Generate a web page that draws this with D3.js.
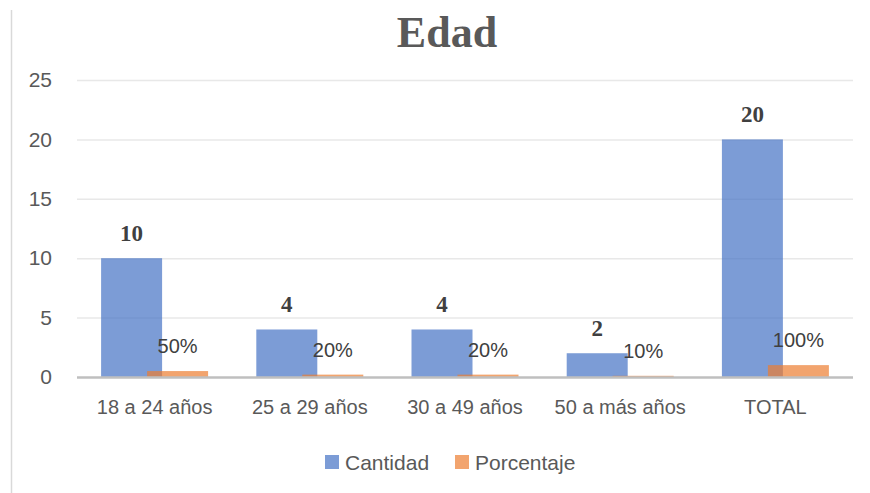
<!DOCTYPE html>
<html>
<head>
<meta charset="utf-8">
<script src="https://cdn.jsdelivr.net/npm/d3@7"></script>
<style>
  body { margin: 0; background: #fff; }
  svg { display: block; }
</style>
</head>
<body>
<div id="chart"></div>
<script>
const categories = ["18 a 24 años", "25 a 29 años", "30 a 49 años", "50 a más años", "TOTAL"];
const cantidad = [10, 4, 4, 2, 20];
const porcentaje = [0.5, 0.2, 0.2, 0.1, 1];
const porcentajeLabels = ["50%", "20%", "20%", "10%", "100%"];
const yTicks = [0, 5, 10, 15, 20, 25];

const width = 870, height = 493;
const margin = { top: 80, right: 17, bottom: 116, left: 77 };
const sans = "Liberation Sans, Arial, sans-serif";

const svg = d3.select("#chart").append("svg")
  .attr("width", width)
  .attr("height", height);

// left border of the chart frame
svg.append("line")
  .attr("x1", 11.5).attr("x2", 11.5)
  .attr("y1", 10).attr("y2", height)
  .attr("stroke", "#d9d9d9")
  .attr("stroke-width", 1.5);

// title
svg.append("text")
  .attr("x", 447)
  .attr("y", 47)
  .attr("text-anchor", "middle")
  .attr("font-family", "Liberation Serif, serif")
  .attr("font-weight", "bold")
  .attr("font-size", 44)
  .attr("fill", "#595959")
  .text("Edad");

const x = d3.scaleBand()
  .domain(categories)
  .range([margin.left, width - margin.right]);

const y = d3.scaleLinear()
  .domain([0, 25])
  .range([height - margin.bottom, margin.top]);

const barW = 61;
const overlap = 15;

// gridlines
svg.append("g")
  .selectAll("line")
  .data(yTicks.slice(1))
  .join("line")
  .attr("x1", margin.left).attr("x2", width - margin.right)
  .attr("y1", d => y(d) + 0.5).attr("y2", d => y(d) + 0.5)
  .attr("stroke", "#e8e8e8")
  .attr("stroke-width", 1.5);

// y axis labels
const yAxis = svg.append("g")
  .attr("transform", `translate(${margin.left},0)`)
  .call(d3.axisLeft(y).tickValues(yTicks).tickSize(0).tickPadding(25));
yAxis.select(".domain").remove();
yAxis.selectAll("text")
  .attr("font-family", sans)
  .attr("font-size", 21)
  .attr("fill", "#595959");

const cx = d => x(d) + x.bandwidth() / 2;
const blueX = d => cx(d) - (2 * barW - overlap) / 2;
const orangeX = d => blueX(d) + barW - overlap;

const bars = svg.append("g");
bars.selectAll("rect.cant")
  .data(categories)
  .join("rect")
  .attr("class", "cant")
  .attr("x", d => blueX(d))
  .attr("y", (d, i) => y(cantidad[i]))
  .attr("width", barW)
  .attr("height", (d, i) => y(0) - y(cantidad[i]))
  .attr("fill", "#4472c4")
  .attr("fill-opacity", 0.7);

bars.selectAll("rect.porc")
  .data(categories)
  .join("rect")
  .attr("class", "porc")
  .attr("x", d => orangeX(d))
  .attr("y", (d, i) => y(porcentaje[i]))
  .attr("width", barW)
  .attr("height", (d, i) => y(0) - y(porcentaje[i]))
  .attr("fill", "#ed7d31")
  .attr("fill-opacity", 0.7);

// baseline
svg.append("line")
  .attr("x1", margin.left).attr("x2", width - margin.right)
  .attr("y1", y(0) + 0.5).attr("y2", y(0) + 0.5)
  .attr("stroke", "#bfbfbf")
  .attr("stroke-width", 2.5);

// x axis labels
const xAxis = svg.append("g")
  .attr("transform", `translate(0,${y(0)})`)
  .call(d3.axisBottom(x).tickSize(0).tickPadding(23));
xAxis.select(".domain").remove();
xAxis.selectAll("text")
  .attr("font-family", sans)
  .attr("font-size", 20)
  .attr("fill", "#595959");

// value labels
svg.append("g").selectAll("text")
  .data(categories)
  .join("text")
  .attr("x", d => blueX(d) + barW / 2)
  .attr("y", (d, i) => y(cantidad[i]) - 17)
  .attr("text-anchor", "middle")
  .attr("font-family", "Liberation Serif, serif")
  .attr("font-weight", "bold")
  .attr("font-size", 23)
  .attr("fill", "#404040")
  .text((d, i) => cantidad[i]);

svg.append("g").selectAll("text")
  .data(categories)
  .join("text")
  .attr("x", d => orangeX(d) + barW / 2)
  .attr("y", (d, i) => y(porcentaje[i]) - 18)
  .attr("text-anchor", "middle")
  .attr("font-family", sans)
  .attr("font-size", 20)
  .attr("fill", "#404040")
  .text((d, i) => porcentajeLabels[i]);

// legend
const legend = [
  { name: "Cantidad", color: "#4472c4", x: 325 },
  { name: "Porcentaje", color: "#ed7d31", x: 455 }
];
const lg = svg.append("g").selectAll("g")
  .data(legend)
  .join("g")
  .attr("transform", d => `translate(${d.x},455)`);
lg.append("rect")
  .attr("width", 14).attr("height", 14)
  .attr("fill", d => d.color)
  .attr("fill-opacity", 0.7);
lg.append("text")
  .attr("x", 20)
  .attr("y", 14.5)
  .attr("font-family", sans)
  .attr("font-size", 21)
  .attr("fill", "#595959")
  .text(d => d.name);
</script>
</body>
</html>
